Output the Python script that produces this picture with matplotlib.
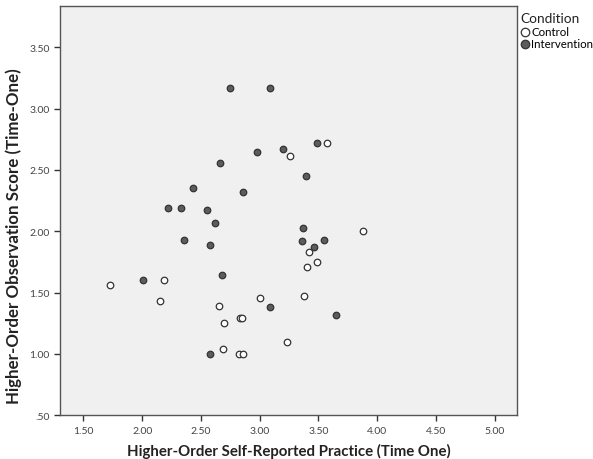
import matplotlib.pyplot as plt
import matplotlib.ticker as mticker

# Control group
control_x = [3.57, 3.26, 3.88, 3.42, 3.49, 3.40, 1.73, 2.19, 2.15, 2.65, 3.00, 3.38,
             2.83, 2.85, 2.70, 3.23, 2.69, 2.82, 2.86]
control_y = [2.72, 2.61, 2.00, 1.83, 1.75, 1.71, 1.56, 1.60, 1.43, 1.39, 1.46, 1.47,
             1.29, 1.29, 1.25, 1.10, 1.04, 1.00, 1.00]

# Intervention group
interv_x = [2.75, 3.09, 3.49, 2.98, 3.20, 2.66, 3.39, 2.43, 2.86, 2.22, 2.33, 2.55,
            2.62, 3.37, 2.36, 2.58, 3.36, 3.55, 3.46, 2.68, 2.01, 3.09, 3.65, 2.58]
interv_y = [3.17, 3.17, 2.72, 2.65, 2.67, 2.56, 2.45, 2.35, 2.32, 2.19, 2.19, 2.17,
            2.07, 2.03, 1.93, 1.89, 1.92, 1.93, 1.87, 1.64, 1.60, 1.38, 1.32, 1.00]

x_ticks = [1.5, 2.0, 2.5, 3.0, 3.5, 4.0, 4.5, 5.0]
y_ticks = [0.5, 1.0, 1.5, 2.0, 2.5, 3.0, 3.5]

plt.rcParams['font.family'] = ['Lato', 'DejaVu Sans']

fig = plt.figure(figsize=(5.93, 4.60), dpi=100)
ax = fig.add_axes([0.101, 0.095, 0.771, 0.889])
ax.set_facecolor("#f0f0f0")

ax.scatter(control_x, control_y, s=22, facecolor="white", edgecolor="#333333",
           linewidth=0.9, label="Control", zorder=3)
ax.scatter(interv_x, interv_y, s=22, facecolor="#5c5c5c", edgecolor="#333333",
           linewidth=0.9, label="Intervention", zorder=3)

ax.set_xlim(1.30, 5.19)
ax.set_ylim(0.5, 3.834)
ax.set_xticks(x_ticks)
ax.set_yticks(y_ticks)
ax.xaxis.set_major_formatter(mticker.FuncFormatter(lambda v, p: f"{v:.2f}"))
ax.yaxis.set_major_formatter(mticker.FuncFormatter(
    lambda v, p: f"{v:.2f}".lstrip("0") if v < 1 else f"{v:.2f}"))
ax.tick_params(direction="out", length=4, width=1, color="#333333",
               labelsize=7.5, labelcolor="#444444")
for sp in ax.spines.values():
    sp.set_color("#555555")
    sp.set_linewidth(1)

ax.set_xlabel("Higher-Order Self-Reported Practice (Time One)", fontsize=10.8,
              fontweight="bold", color="#222222", labelpad=6)
ax.set_ylabel("Higher-Order Observation Score (Time-One)", fontsize=12.2,
              fontweight="bold", color="#222222")
ax.yaxis.set_label_coords(-0.083, 0.44)

leg = ax.legend(loc="upper left", bbox_to_anchor=(1.008, 0.985), title="Condition",
                frameon=False, fontsize=8.3, title_fontsize=9.8,
                handlelength=0.7, handletextpad=0.2, borderaxespad=0.0,
                labelspacing=0.1, markerscale=1.3, borderpad=0.0)
leg._legend_box.align = "left"
leg.get_title().set_color("#222222")

fig.savefig("out.png", dpi=100)
